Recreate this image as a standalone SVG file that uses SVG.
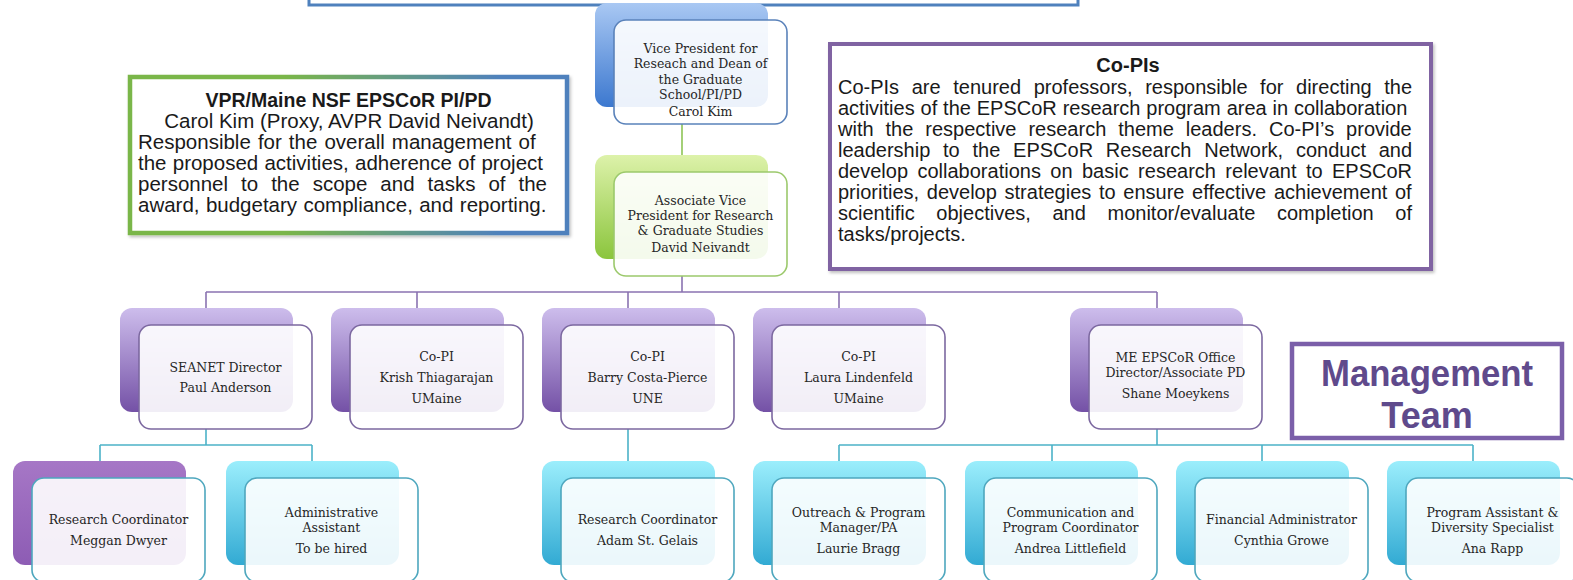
<svg xmlns="http://www.w3.org/2000/svg" width="1573" height="580" viewBox="0 0 1573 580">
<defs>
  <linearGradient id="gBlue" x1="0" y1="0" x2="0" y2="1"><stop offset="0" stop-color="#a9c8f3"/><stop offset="1" stop-color="#3c78cf"/></linearGradient>
  <linearGradient id="gGreen" x1="0" y1="0" x2="0" y2="1"><stop offset="0" stop-color="#ddf2aa"/><stop offset="1" stop-color="#8bc53d"/></linearGradient>
  <linearGradient id="gPurple" x1="0" y1="0" x2="0" y2="1"><stop offset="0" stop-color="#cdbdec"/><stop offset="1" stop-color="#7451a6"/></linearGradient>
  <linearGradient id="gCyan" x1="0" y1="0" x2="0" y2="1"><stop offset="0" stop-color="#9beefc"/><stop offset="1" stop-color="#32aad3"/></linearGradient>
  <linearGradient id="gViolet" x1="0" y1="0" x2="0" y2="1"><stop offset="0" stop-color="#a677c6"/><stop offset="1" stop-color="#8d5cb4"/></linearGradient>
  <linearGradient id="gVpr" gradientUnits="userSpaceOnUse" x1="130" y1="0" x2="567" y2="0"><stop offset="0" stop-color="#7ab648"/><stop offset="0.35" stop-color="#7ab648"/><stop offset="0.85" stop-color="#4f81bd"/></linearGradient>
  <filter id="sh" x="-5%" y="-5%" width="110%" height="115%"><feDropShadow dx="1.5" dy="2" stdDeviation="1.5" flood-color="#000" flood-opacity="0.25"/></filter>
</defs>
<style>
  .front{fill:#ffffff;fill-opacity:0.9;stroke-width:1.6}
  .sBlue{stroke:#5a82ba}
  .sGreen{stroke:#9cc96c}
  .sPurple{stroke:#7c68a0}
  .sCyan{stroke:#4ea7be}
  .nt{font-family:"DejaVu Serif","Liberation Serif",serif;font-size:12.5px;fill:#262626;text-anchor:middle}
  .bt{font-family:"Liberation Sans",Arial,sans-serif;fill:#1a1a1a}
  .bold{font-weight:bold}
  .mid{text-anchor:middle}
</style>

<rect x="309" y="-20" width="769" height="25" fill="#ffffff" stroke="#4f81bd" stroke-width="3"/>

<g id="connectors" fill="none" stroke-width="1.6">
  <path d="M682,124V155" stroke="#8dc456"/>
  <path d="M682,276V292M206,292H1157M206,292V308M417,292V308M628,292V308M839,292V308M1157,292V308" stroke="#8a73b1"/>
  <path d="M206,429V445M100,445H312M100,445V461M312,445V461M628,429V461M1157,429V445M839,445H1473M839,445V461M1052,445V461M1262,445V461M1473,445V461" stroke="#4cb2c8"/>
</g>

<g id="n-vp">
  <rect x="595" y="3" width="173" height="104" rx="12" fill="url(#gBlue)"/>
  <rect class="front sBlue" x="614" y="20" width="173" height="104" rx="12"/>
  <text class="nt"><tspan x="700.5" y="52.5">Vice President for</tspan><tspan x="700.5" y="68">Reseach and Dean of</tspan><tspan x="700.5" y="83.5">the Graduate</tspan><tspan x="700.5" y="99">School/PI/PD</tspan><tspan x="700.5" y="116">Carol Kim</tspan></text>
</g>

<g id="n-avp">
  <rect x="595" y="155" width="173" height="104" rx="12" fill="url(#gGreen)"/>
  <rect class="front sGreen" x="614" y="172" width="173" height="104" rx="12"/>
  <text class="nt"><tspan x="700.5" y="204.5">Associate Vice</tspan><tspan x="700.5" y="219.5">President for Research</tspan><tspan x="700.5" y="234.5">&amp; Graduate Studies</tspan><tspan x="700.5" y="251.5">David Neivandt</tspan></text>
</g>

<g id="n-seanet">
  <rect x="120" y="308" width="173" height="104" rx="12" fill="url(#gPurple)"/>
  <rect class="front sPurple" x="139" y="325" width="173" height="104" rx="12"/>
  <text class="nt"><tspan x="225.5" y="371.5">SEANET Director</tspan><tspan x="225.5" y="391.5">Paul Anderson</tspan></text>
</g>

<g id="n-krish">
  <rect x="331" y="308" width="173" height="104" rx="12" fill="url(#gPurple)"/>
  <rect class="front sPurple" x="350" y="325" width="173" height="104" rx="12"/>
  <text class="nt"><tspan x="436.5" y="360.5">Co-PI</tspan><tspan x="436.5" y="381.5">Krish Thiagarajan</tspan><tspan x="436.5" y="402.5">UMaine</tspan></text>
</g>

<g id="n-barry">
  <rect x="542" y="308" width="173" height="104" rx="12" fill="url(#gPurple)"/>
  <rect class="front sPurple" x="561" y="325" width="173" height="104" rx="12"/>
  <text class="nt"><tspan x="647.5" y="360.5">Co-PI</tspan><tspan x="647.5" y="381.5">Barry Costa-Pierce</tspan><tspan x="647.5" y="402.5">UNE</tspan></text>
</g>

<g id="n-laura">
  <rect x="753" y="308" width="173" height="104" rx="12" fill="url(#gPurple)"/>
  <rect class="front sPurple" x="772" y="325" width="173" height="104" rx="12"/>
  <text class="nt"><tspan x="858.5" y="360.5">Co-PI</tspan><tspan x="858.5" y="381.5">Laura Lindenfeld</tspan><tspan x="858.5" y="402.5">UMaine</tspan></text>
</g>

<g id="n-shane">
  <rect x="1070" y="308" width="173" height="104" rx="12" fill="url(#gPurple)"/>
  <rect class="front sPurple" x="1089" y="325" width="173" height="104" rx="12"/>
  <text class="nt"><tspan x="1175.5" y="362">ME EPSCoR Office</tspan><tspan x="1175.5" y="377">Director/Associate PD</tspan><tspan x="1175.5" y="398">Shane Moeykens</tspan></text>
</g>

<g id="n-meggan">
  <rect x="13" y="461" width="173" height="104" rx="12" fill="url(#gViolet)"/>
  <rect class="front sCyan" x="32" y="478" width="173" height="104" rx="12"/>
  <text class="nt"><tspan x="118.5" y="523.5">Research Coordinator</tspan><tspan x="118.5" y="544.5">Meggan Dwyer</tspan></text>
</g>

<g id="n-admin">
  <rect x="226" y="461" width="173" height="104" rx="12" fill="url(#gCyan)"/>
  <rect class="front sCyan" x="245" y="478" width="173" height="104" rx="12"/>
  <text class="nt"><tspan x="331.5" y="516.5">Administrative</tspan><tspan x="331.5" y="531.5">Assistant</tspan><tspan x="331.5" y="552.5">To be hired</tspan></text>
</g>

<g id="n-adam">
  <rect x="542" y="461" width="173" height="104" rx="12" fill="url(#gCyan)"/>
  <rect class="front sCyan" x="561" y="478" width="173" height="104" rx="12"/>
  <text class="nt"><tspan x="647.5" y="523.5">Research Coordinator</tspan><tspan x="647.5" y="544.5">Adam St. Gelais</tspan></text>
</g>

<g id="n-laurie">
  <rect x="753" y="461" width="173" height="104" rx="12" fill="url(#gCyan)"/>
  <rect class="front sCyan" x="772" y="478" width="173" height="104" rx="12"/>
  <text class="nt"><tspan x="858.5" y="516.5">Outreach &amp; Program</tspan><tspan x="858.5" y="531.5">Manager/PA</tspan><tspan x="858.5" y="552.5">Laurie Bragg</tspan></text>
</g>

<g id="n-andrea">
  <rect x="965" y="461" width="173" height="104" rx="12" fill="url(#gCyan)"/>
  <rect class="front sCyan" x="984" y="478" width="173" height="104" rx="12"/>
  <text class="nt"><tspan x="1070.5" y="516.5">Communication and</tspan><tspan x="1070.5" y="531.5">Program Coordinator</tspan><tspan x="1070.5" y="552.5">Andrea Littlefield</tspan></text>
</g>

<g id="n-cynthia">
  <rect x="1176" y="461" width="173" height="104" rx="12" fill="url(#gCyan)"/>
  <rect class="front sCyan" x="1195" y="478" width="173" height="104" rx="12"/>
  <text class="nt"><tspan x="1281.5" y="523.5">Financial Administrator</tspan><tspan x="1281.5" y="544.5">Cynthia Growe</tspan></text>
</g>

<g id="n-ana">
  <rect x="1387" y="461" width="173" height="104" rx="12" fill="url(#gCyan)"/>
  <rect class="front sCyan" x="1406" y="478" width="173" height="104" rx="12"/>
  <text class="nt"><tspan x="1492.5" y="516.5">Program Assistant &amp;</tspan><tspan x="1492.5" y="531.5">Diversity Specialist</tspan><tspan x="1492.5" y="552.5">Ana Rapp</tspan></text>
</g>

<g id="vpr-box">
  <rect x="130" y="77" width="437" height="156" fill="#ffffff" stroke="url(#gVpr)" stroke-width="4.5" filter="url(#sh)"/>
  <g class="bt" font-size="20.5px">
    <text class="bold mid" x="348.5" y="107" font-size="19.5px">VPR/Maine NSF EPSCoR PI/PD</text>
    <text class="mid" x="349" y="127.5">Carol Kim (Proxy, AVPR David Neivandt)</text>
    <text x="138" y="149" word-spacing="1.36">Responsible for the overall management of</text>
    <text x="138" y="170" word-spacing="0.54">the proposed activities, adherence of project</text>
    <text x="138" y="191" word-spacing="7.31">personnel to the scope and tasks of the</text>
    <text x="138" y="212" word-spacing="0.68">award, budgetary compliance, and reporting.</text>
  </g>
</g>

<g id="copis-box">
  <rect x="830" y="44" width="601" height="225" fill="#ffffff" stroke="#8064a2" stroke-width="4" filter="url(#sh)"/>
  <g class="bt" font-size="20px">
    <text class="bold mid" x="1128" y="71.5">Co-PIs</text>
    <text x="838" y="94" word-spacing="7.05">Co-PIs are tenured professors, responsible for directing the</text>
    <text x="838" y="115" word-spacing="0.3">activities of the EPSCoR research program area in collaboration</text>
    <text x="838" y="136" word-spacing="6.42">with the respective research theme leaders. Co-PI’s provide</text>
    <text x="838" y="157" word-spacing="7.21">leadership to the EPSCoR Research Network, conduct and</text>
    <text x="838" y="178" word-spacing="3.87">develop collaborations on basic research relevant to EPSCoR</text>
    <text x="838" y="199" word-spacing="2.12">priorities, develop strategies to ensure effective achievement of</text>
    <text x="838" y="220" word-spacing="16.09">scientific objectives, and monitor/evaluate completion of</text>
    <text x="838" y="241">tasks/projects.</text>
  </g>
</g>

<g id="mgmt-box">
  <rect x="1292" y="344" width="270" height="94" fill="#ffffff" stroke="#7b5fa9" stroke-width="4.5"/>
  <g class="bt bold mid" font-size="36px" style="fill:#5f4a8c">
    <text x="1427" y="386" textLength="212" lengthAdjust="spacingAndGlyphs">Management</text>
    <text x="1427" y="428">Team</text>
  </g>
</g>
</svg>
